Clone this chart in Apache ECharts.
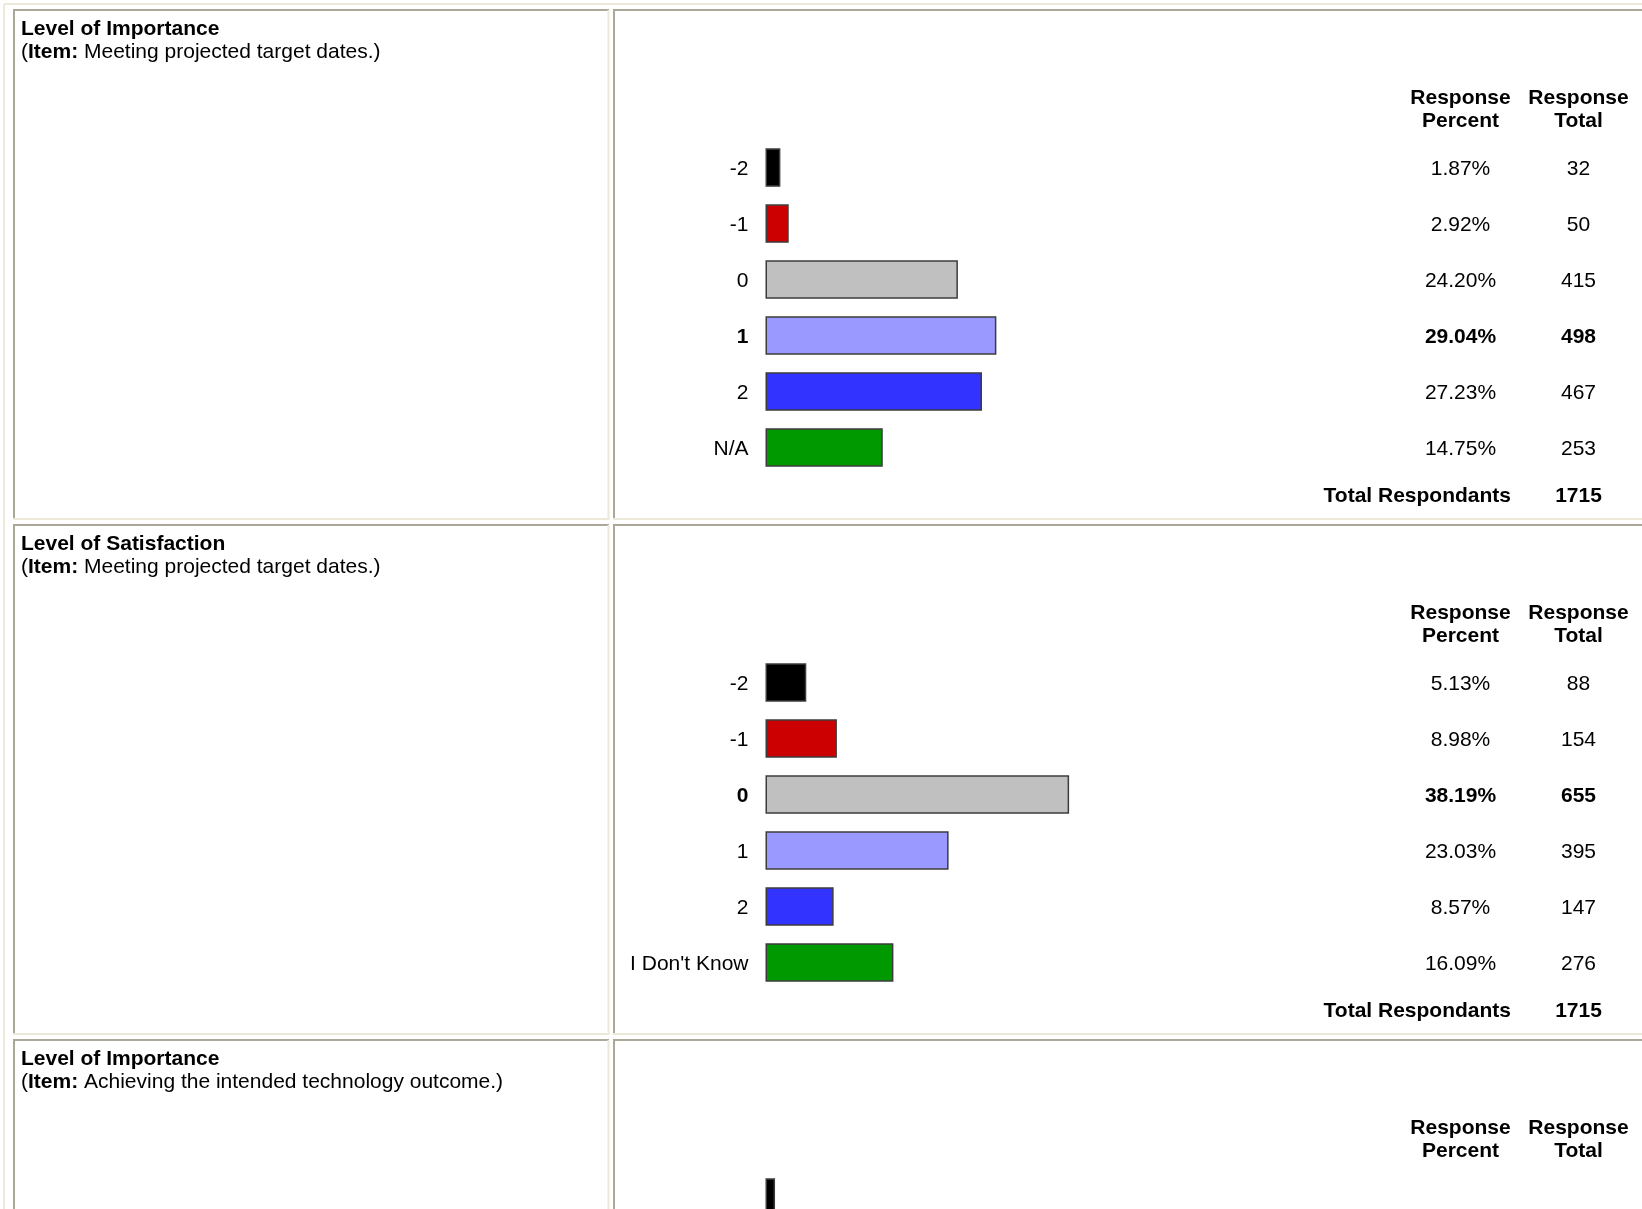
<!DOCTYPE html>
<html>
<head>
<meta charset="utf-8">
<script src="https://cdn.jsdelivr.net/npm/echarts@6/dist/echarts.min.js"></script>
<style>
  html, body { margin: 0; padding: 0; background: #ffffff; }
  #chart { width: 1642px; height: 1209px; }
</style>
</head>
<body>
<div id="chart"></div>
<script>
// ---------------- data ----------------
const importanceCategories = ['-2', '-1', '0', '1', '2', 'N/A'];
const importancePercent = [1.87, 2.92, 24.20, 29.04, 27.23, 14.75];
const importanceTotal = [32, 50, 415, 498, 467, 253];
const importanceRespondents = 1715;

const satisfactionCategories = ['-2', '-1', '0', '1', '2', "I Don't Know"];
const satisfactionPercent = [5.13, 8.98, 38.19, 23.03, 8.57, 16.09];
const satisfactionTotal = [88, 154, 655, 395, 147, 276];
const satisfactionRespondents = 1715;

// third panel is cut off by the bottom of the page: only the first bar is visible
const outcomeCategories = ['-2'];
const outcomePercent = [1.2];

const panelTitles = ['Level of Importance', 'Level of Satisfaction', 'Level of Importance'];
const panelItems = ['Meeting projected target dates.', 'Meeting projected target dates.', 'Achieving the intended technology outcome.'];
const headerPercent = 'Response\nPercent';
const headerTotal = 'Response\nTotal';
const totalLabel = 'Total Respondants';

const barColors = ['#000000', '#cc0000', '#c0c0c0', '#9999ff', '#3333ff', '#009900'];

// ---------------- layout ----------------
const FONT = '"Liberation Sans", Arial, Helvetica, sans-serif';
const FS = 21;
const ROW_H = 515;
const GRID_LEFT = 765.5;
const GRID_W = 795;
const BAND = 56;
const GRID_TOP0 = 139.6;
const PCT_X = 1460.5;
const TOT_X = 1578.5;
const DARK = '#aca899';
const LIGHT = '#ece9d8';

const panels = [
  { cats: importanceCategories, pct: importancePercent, tot: importanceTotal, resp: importanceRespondents, table: true },
  { cats: satisfactionCategories, pct: satisfactionPercent, tot: satisfactionTotal, resp: satisfactionRespondents, table: true },
  { cats: outcomeCategories, pct: outcomePercent, tot: null, resp: null, table: false }
];

const grid = [], xAxis = [], yAxis = [], series = [], graphic = [];

function line(x1, y1, x2, y2, color) {
  graphic.push({ type: 'line', silent: true, shape: { x1, y1, x2, y2 }, style: { stroke: color, lineWidth: 2 } });
}
function text(str, x, y, opts) {
  graphic.push({
    type: 'text', silent: true,
    style: Object.assign({
      text: str, x: x, y: y, fontSize: FS, fontFamily: FONT, fill: '#000',
      align: 'left', verticalAlign: 'middle'
    }, opts || {})
  });
}

// outer table edge
line(4, 4, 1642, 4, LIGHT);
line(4, 4, 4, 1209, LIGHT);

panels.forEach((p, r) => {
  const off = r * ROW_H;
  // cell borders (inset style)
  const top = 10 + off, bot = 519 + off;
  line(13, top, 609, top, DARK);
  line(14, top, 14, bot, DARK);
  line(13, bot, 609.5, bot, LIGHT);
  line(608.5, top, 608.5, bot, LIGHT);
  line(613, top, 1642, top, DARK);
  line(614, top, 614, bot, DARK);
  line(613, bot, 1642, bot, LIGHT);

  // left cell text
  text(panelTitles[r], 21, 29.5 + off, { fontWeight: 'bold' });
  text('({b|Item:} ' + panelItems[r] + ')', 21, 52.5 + off, {
    rich: { b: { fontWeight: 'bold', fontSize: FS, fontFamily: FONT, fill: '#000' } }
  });

  // table headers
  text(headerPercent, PCT_X, 109.5 + off, { fontWeight: 'bold', align: 'center', lineHeight: 23.5 });
  text(headerTotal, TOT_X, 109.5 + off, { fontWeight: 'bold', align: 'center', lineHeight: 23.5 });

  const g = grid.length;
  grid.push({
    left: GRID_LEFT, top: GRID_TOP0 + off, width: GRID_W, height: BAND * p.cats.length,
    containLabel: false, outerBoundsMode: 'none'
  });
  xAxis.push({ type: 'value', gridIndex: g, min: 0, max: 100, show: false });

  let maxIdx = -1;
  if (p.tot) { maxIdx = p.tot.indexOf(Math.max.apply(null, p.tot)); }
  const rich = { b: { fontWeight: 'bold', fontSize: FS, fontFamily: FONT, color: '#000' } };
  const baseAxis = {
    type: 'category', gridIndex: g, data: p.cats, inverse: true,
    axisLine: { show: false }, axisTick: { show: false }, splitLine: { show: false }
  };
  const lblBase = { interval: 0, fontSize: FS, fontFamily: FONT, color: '#000', padding: [3, 0, 0, 0], rich: rich };

  yAxis.push(Object.assign({}, baseAxis, {
    position: 'left',
    axisLabel: Object.assign({}, lblBase, {
      show: p.table, margin: 17,
      formatter: (v, i) => i === maxIdx ? '{b|' + v + '}' : v
    })
  }));
  const labelAxisIdx = yAxis.length - 1;

  if (p.table) {
    yAxis.push(Object.assign({}, baseAxis, {
      position: 'left', offset: -(PCT_X - GRID_LEFT),
      axisLabel: Object.assign({}, lblBase, {
        margin: 0, align: 'center',
        formatter: (v, i) => {
          const s = p.pct[i].toFixed(2) + '%';
          return i === maxIdx ? '{b|' + s + '}' : s;
        }
      })
    }));
    yAxis.push(Object.assign({}, baseAxis, {
      position: 'left', offset: -(TOT_X - GRID_LEFT),
      axisLabel: Object.assign({}, lblBase, {
        margin: 0, align: 'center',
        formatter: (v, i) => {
          const s = String(p.tot[i]);
          return i === maxIdx ? '{b|' + s + '}' : s;
        }
      })
    }));
    text(totalLabel, 1511, 496.3 + off, { fontWeight: 'bold', align: 'right' });
    text(String(p.resp), TOT_X, 496.3 + off, { fontWeight: 'bold', align: 'center' });
  }

  series.push({
    type: 'bar', xAxisIndex: g, yAxisIndex: labelAxisIdx, barWidth: 38.5,
    silent: true,
    data: p.pct.map((v, i) => ({
      value: v,
      itemStyle: { color: barColors[i], borderColor: '#3c3c3c', borderWidth: 1.5 }
    }))
  });
});

const chart = echarts.init(document.getElementById('chart'), null, { renderer: 'canvas' });
chart.setOption({
  animation: false,
  backgroundColor: '#ffffff',
  grid: grid,
  xAxis: xAxis,
  yAxis: yAxis,
  series: series,
  graphic: graphic
});
</script>
</body>
</html>
